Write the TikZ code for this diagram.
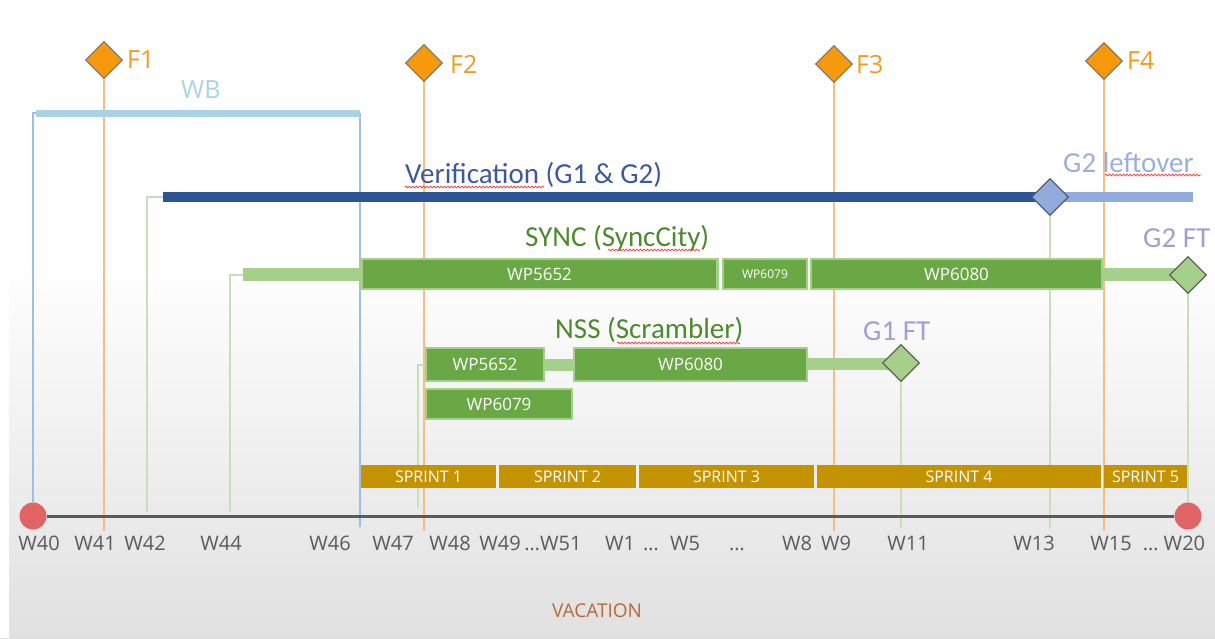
\documentclass[tikz,border=0pt]{standalone}
\usepackage{fontspec}
\setmainfont{Open Sans}
\newfontfamily\calib{Carlito}
\usetikzlibrary{shapes.geometric, positioning, decorations.pathmorphing}

\definecolor{forange}{HTML}{F7990C}
\definecolor{fedge}{HTML}{857B62}
\definecolor{ftext}{HTML}{F39A1E}
\definecolor{fline}{HTML}{F5BE82}
\definecolor{bline}{HTML}{9CBFE4}
\definecolor{wbblue}{HTML}{A9D3E4}
\definecolor{vblue}{HTML}{2D5596}
\definecolor{vtext}{HTML}{3D5A9C}
\definecolor{vlight}{HTML}{90ABDC}
\definecolor{ltext}{HTML}{9CAFDC}
\definecolor{gdark}{HTML}{6AA845}
\definecolor{glight}{HTML}{A6CF8B}
\definecolor{gline}{HTML}{C8E0B8}
\definecolor{gtext}{HTML}{4E8A2E}
\definecolor{fttext}{HTML}{A49ED2}
\definecolor{sprint}{HTML}{C49300}
\definecolor{axis}{HTML}{5B5B5B}
\definecolor{dot}{HTML}{E06464}
\definecolor{vac}{HTML}{B8693A}

\begin{document}
\begin{tikzpicture}[x=1pt, y=-1pt,
	fdia/.style={diamond, aspect=1, minimum size=37pt, inner sep=0pt, fill=forange, draw=fedge, line width=1.3pt},
	gdia/.style={diamond, aspect=1, minimum size=37pt, inner sep=0pt, fill=glight, draw=black!55!gline, line width=1.3pt},
	ldia/.style={diamond, aspect=1, minimum size=37pt, inner sep=0pt, fill=vlight, draw=black!45!vlight, line width=1.3pt},
	ftxt/.style={anchor=base west, inner sep=0pt, text=ftext, font=\fontsize{25}{25}\selectfont},
	ctxt/.style={anchor=base west, inner sep=0pt, font=\calib\fontsize{29}{29}\selectfont},
	wk/.style={anchor=base, inner sep=0pt, text=axis, font=\fontsize{20}{20}\selectfont},
	wp/.style={rectangle, fill=gdark, draw=glight, line width=2.5pt, text=white, inner sep=0pt, font=\fontsize{17}{17}\selectfont},
	sprintbox/.style={rectangle, fill=sprint, text=white, inner sep=0pt, minimum height=23pt, font=\fontsize{16}{16}\selectfont},
	dot/.style={circle, fill=dot, minimum size=27pt, inner sep=0pt},
	spell/.style={red!80, line width=0.7pt, decorate, decoration={snake, amplitude=0.9pt, segment length=3.5pt}}]
	\useasboundingbox (0,0) rectangle (1215,638);
	\fill [white] (0,0) rectangle (1215,260);
	\shade [top color=white, bottom color=black!12] (0,260) rectangle (1215,638);
	\fill [white] (0,0) rectangle (9,638);
	% points
	\coordinate (WBa) at (36,113);
	\coordinate (WBb) at (360,113);
	\coordinate (WBc) at (360,527);
	\coordinate (Va) at (163,197);
	\coordinate (G2L) at (1050,197);
	\coordinate (Vb) at (1193,197);
	\coordinate (G1F) at (901,363);
	\coordinate (G2F) at (1188,275);
	\coordinate (A42) at (147,512);
	\coordinate (A44) at (230,512);
	\coordinate (A47) at (418,508);
	\coordinate (A11) at (901,528);
	\coordinate (A13) at (1050,528);
	% thin guide lines
	\foreach \n/\x/\y in {1/104/60, 2/424/63, 3/834/64, 4/1104/61} {
		\coordinate (F\n) at (\x,\y);
		\coordinate (F\n b) at (\x,531);
		\draw [fline, line width=1.6pt] (F\n) -- (F\n b);
	}
	\node [dot] (W40) at (33,516) {};
	\node [dot] (W20) at (1188,516) {};
	\draw [bline, line width=1.4pt] (WBa) -| (W40);
	\draw [bline, line width=1.4pt] (WBb) -- (WBc);
	\draw [gline, line width=1.3pt] (Va) -| (A42);
	\draw [gline, line width=1.3pt] (243,275) -| (A44);
	\draw [gline, line width=1.3pt] (425,365) -| (A47);
	\draw [gline, line width=1.3pt] (G2L) -- (A13);
	\draw [gline, line width=1.3pt] (G1F) -- (A11);
	\draw [gline, line width=1.3pt] (G2F) -- (W20);
	\draw [axis, line width=3pt] (W40.east) -- (W20.west);
	% bars
	\draw [wbblue, line width=7pt] (WBa) -- (WBb);
	\draw [vblue, line width=10pt] (Va) -- (G2L);
	\draw [vlight, line width=10pt] (G2L) -- (Vb);
	\fill [glight] (243,268) rectangle (362,281);
	\fill [glight] (1100,268) rectangle (1188,281);
	\fill [glight] (543,359) rectangle (575,371);
	\fill [glight] (806,358) rectangle (901,370);
	\node [wp, minimum width=356pt, minimum height=30pt] (S5652) at (539.5,274) {WP5652};
	\node [wp, minimum width=84pt, minimum height=30pt, font=\fontsize{12}{12}\selectfont] (S6079) at (765,274) {WP6079};
	\node [wp, minimum width=291pt, minimum height=30pt] (S6080) at (956.5,274) {WP6080};
	\node [wp, minimum width=118pt, minimum height=33pt] (N5652) at (485,364.5) {WP5652};
	\node [wp, minimum width=233pt, minimum height=33pt] (N6080) at (690.5,364.5) {WP6080};
	\node [wp, minimum width=146pt, minimum height=30pt] (N6079) at (499,404) {WP6079};
	% milestones
	\foreach \n in {1,2,3,4} {
		\node [fdia] (FD\n) at (F\n) {};
	}
	\node [ldia] (G2Ld) at (G2L) {};
	\node [gdia] (G1Fd) at (G1F) {};
	\node [gdia] (G2Fd) at (G2F) {};
	% labels
	\node [ftxt] (F1t) at (127,68) {F1};
	\node [ftxt] (F2t) at (450,73) {F2};
	\node [ftxt] (F3t) at (856,73) {F3};
	\node [ftxt] (F4t) at (1127,69) {F4};
	\node [anchor=base west, inner sep=0pt, text=wbblue, font=\fontsize{25}{25}\selectfont] (WBt) at (181,98) {WB};
	\node [ctxt, text=vtext] (Vt) at (405,183) {Verification (G1 \& G2)};
	\node [ctxt, text=ltext] (G2Lt) at (1063,172) {G2 leftover};
	\node [ctxt, text=gtext] (St) at (525,246) {SYNC (SyncCity)};
	\node [ctxt, text=gtext] (Nt) at (555,338) {NSS (Scrambler)};
	\node [ctxt, text=fttext] (G1Ft) at (863,340) {G1 FT};
	\node [ctxt, text=fttext] (G2Ft) at (1143,247) {G2 FT};
	\draw [spell] (405,187) -- (544,187);
	\draw [spell] (1105,175) -- (1201,175);
	\draw [spell] (608,250) -- (700,250);
	\draw [spell] (617,343) -- (740,343);
	% sprints
	\foreach \x/\w/\n in {428.5/135/1, 567.5/137/2, 726.5/175/3, 959/284/4, 1145.5/83/5} {
		\node [sprintbox, minimum width=\w pt] (SP\n) at (\x,476.5) {SPRINT \n};
	}
	% weeks
	\foreach \x/\w in {39/W40, 95/W41, 145/W42, 221/W44, 330/W46, 393/W47, 450/W48, 500/W49, 553/{\ldots W51}, 620/W1, 651/\ldots, 685/W5, 737/\ldots, 797/W8, 836/W9, 908/W11, 1034/W13, 1111/W15, 1174/{\ldots\ W20}} {
		\node [wk] (wk\x) at (\x,550) {\w};
	}
	\node [anchor=base, inner sep=0pt, text=vac, font=\fontsize{19}{19}\selectfont] (VAC) at (597,617) {VACATION};
\end{tikzpicture}
\end{document}
